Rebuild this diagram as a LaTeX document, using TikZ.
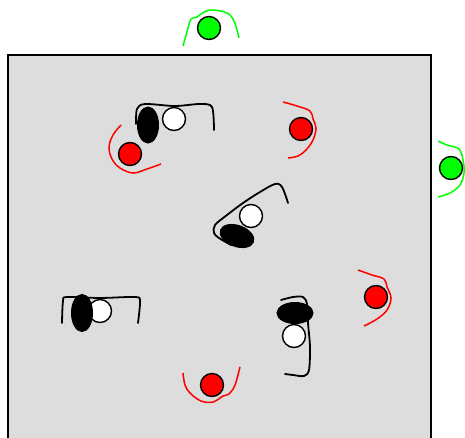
\documentclass[tikz,border=0pt]{standalone}
\usetikzlibrary{shapes.geometric}
\definecolor{bg}{RGB}{221,221,221}
\definecolor{gr}{RGB}{0,255,0}
\tikzset{
  ball/.style={circle, draw=black, line width=1.4pt, minimum size=23pt, inner sep=0pt},
  redball/.style={ball, fill=red},
  greenball/.style={ball, fill=gr},
  whiteball/.style={ball, fill=white},
  blackegg/.style={ellipse, draw=black, fill=black, line width=1pt, inner sep=0pt},
  wire/.style={line width=1.8pt, line cap=round, line join=round},
  redwire/.style={red, line width=1.5pt},
  greenwire/.style={gr, line width=1.5pt},
}
\begin{document}
\begin{tikzpicture}[x=1pt,y=-1pt]
\useasboundingbox (0,0) rectangle (465,437);
% field
\fill[bg] (8,55) rectangle (431,440);
\draw[line width=2pt] (8,440) -- (8,55) -- (431,55) -- (431,440);

% green top
\draw[greenwire] plot[smooth, tension=0.6] coordinates {(183,46) (188,28) (191,19) (197,17) (204,12) (213,10) (227,13) (234,21) (239,38)};
\node[greenball] (g1) at (209,28) {};
% green right
\draw[greenwire] plot[smooth, tension=0.6] coordinates {(438,141) (447,145) (459,149) (463,160) (464,173) (460,185) (450,193) (438,197)};
\node[greenball] (g2) at (451,168) {};

% red top-left
\draw[redwire] plot[smooth, tension=0.6] coordinates {(121,125) (113,135) (109,147) (112,159) (120,168) (133,173) (147,169) (161,164)};
\node[redball] (r1) at (130,154) {};
% red top-right
\draw[redwire] plot[smooth, tension=0.6] coordinates {(283,102) (297,106) (310,111) (313,119) (316,128) (313,140) (306,150) (298,156) (288,158)};
\node[redball] (r2) at (301,129) {};
% red right
\draw[redwire] plot[smooth, tension=0.6] coordinates {(358,270) (372,275) (384,279) (387,287) (391,298) (387,310) (377,319) (364,326)};
\node[redball] (r3) at (376,297) {};
% red bottom
\draw[redwire] plot[smooth, tension=0.6] coordinates {(183,373) (185,385) (190,393) (201,401) (213,402) (223,396) (229,394) (235,385) (240,367)};
\node[redball] (r4) at (212,385) {};

% player top-left
\draw[wire] plot[smooth, tension=0.5] coordinates {(136,124) (137,109) (145,104) (175,106) (200,104) (212,107) (214,130)};
\node[blackegg, minimum width=21pt, minimum height=36pt] (b1) at (148,125) {};
\node[whiteball] (w1) at (174,119) {};

% player centre
\draw[wire] plot[smooth, tension=0.55] coordinates {(288,203) (282,187) (275,184) (260,192) (243,203) (227,215) (215,225) (214,233) (219,238) (231,245)};
\node[whiteball] (w2) at (251,216) {};
\node[blackegg, minimum width=35pt, minimum height=21pt, rotate=-20] (b2) at (237,236) {};

% player lower-left
\draw[wire] plot[smooth, tension=0.5] coordinates {(62,323) (63,301) (67,297) (100,298) (135,297) (140,301) (138,323)};
\node[whiteball] (w3) at (100,311) {};
\node[blackegg, minimum width=21pt, minimum height=37pt] (b3) at (82,313) {};

% player lower-middle
\draw[wire] plot[smooth, tension=0.5] coordinates {(281,300) (293,297) (303,297) (307,304) (308,323) (310,347) (309,370) (304,376) (293,375) (285,374)};
\node[blackegg, minimum width=36pt, minimum height=21pt] (b4) at (295,313) {};
\node[whiteball] (w4) at (294,336) {};
\end{tikzpicture}
\end{document}
